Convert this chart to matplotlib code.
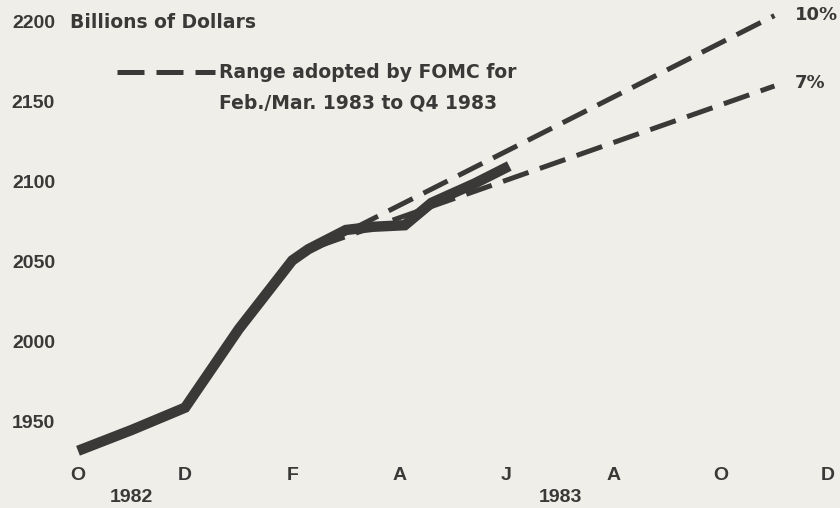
import matplotlib.pyplot as plt
from matplotlib.lines import Line2D
from matplotlib.transforms import blended_transform_factory

# months counted from Oct 1982 (0) to Dec 1983 (14)
money_m = [0, 1, 2, 3, 4, 4.3, 5, 5.5, 6.1, 6.6, 7.4, 8.05]
money_v = [1932, 1945, 1959, 2008, 2051, 2058, 2070, 2072, 2073, 2087, 2099, 2110]

range_m = [4.5, 13]
upper_v = [2060, 2204]  # 10%
lower_v = [2060, 2160]  # 7%

month_ticks = [0, 2, 4, 6, 8, 10, 12, 14]
month_labels = ["O", "D", "F", "A", "J", "A", "O", "D"]
year_pos = [1, 9]
year_labels = ["1982", "1983"]
y_ticks = [1950, 2000, 2050, 2100, 2150, 2200]

bg = "#efeee9"
ink = "#3a3938"
W, H = 840, 508

fig = plt.figure(figsize=(8.4, 5.08), dpi=100, facecolor=bg)
ax = fig.add_axes([78 / W, (H - 466) / H, 750 / W, 460 / H])
ax.set_facecolor(bg)
ax.set_xlim(0, 14)
ax.set_ylim(1922.5, 2210)
for s in ax.spines.values():
    s.set_visible(False)

dash = (0, (5.4, 2.4))
ax.plot(range_m, upper_v, color=ink, lw=3.6, linestyle=dash,
        dash_capstyle="butt", clip_on=False, zorder=2)
ax.plot(range_m, lower_v, color=ink, lw=3.6, linestyle=dash,
        dash_capstyle="butt", clip_on=False, zorder=2)
ax.plot(money_m, money_v, color=ink, lw=7.5, solid_joinstyle="miter",
        solid_capstyle="butt", clip_on=False, zorder=3)

ax.set_xticks(month_ticks)
ax.set_xticklabels(month_labels)
ax.set_yticks(y_ticks)
ax.set_yticklabels([str(v) for v in y_ticks])
ax.tick_params(axis="x", length=0, pad=1, labelsize=14, labelcolor=ink)
ax.tick_params(axis="y", length=0, pad=16.5, labelsize=14, labelcolor=ink)
for lab in ax.get_xticklabels() + ax.get_yticklabels():
    lab.set_family("Liberation Sans")
    lab.set_fontweight("bold")

tr = blended_transform_factory(ax.transData, fig.transFigure)
for xp, lab in zip(year_pos, year_labels):
    ax.text(xp, 1 - 497 / H, lab, transform=tr, ha="center", va="center",
            fontsize=14, fontweight="bold", family="Liberation Sans", color=ink)

ax.text(13.38, upper_v[-1] + 0.5, "10%", ha="left", va="center",
        fontsize=13, fontweight="bold", color=ink)
ax.text(13.38, lower_v[-1] + 2, "7%", ha="left", va="center",
        fontsize=13, fontweight="bold", color=ink)

fig.text(70 / W, 1 - 22 / H, "Billions of Dollars", ha="left", va="center",
         fontsize=13.5, fontweight="bold", color=ink)

# legend sample
fig.add_artist(Line2D([117 / W, 215 / W], [1 - 72 / H, 1 - 72 / H], color=ink,
                      lw=3.6, linestyle=dash, dash_capstyle="butt"))
fig.text(219 / W, 1 - 72 / H, "Range adopted by FOMC for", ha="left", va="center",
         fontsize=13.5, fontweight="bold", color=ink)
fig.text(219 / W, 1 - 103 / H, "Feb./Mar. 1983 to Q4 1983", ha="left", va="center",
         fontsize=13.5, fontweight="bold", color=ink)

fig.savefig("out.png", dpi=100, facecolor=bg)
